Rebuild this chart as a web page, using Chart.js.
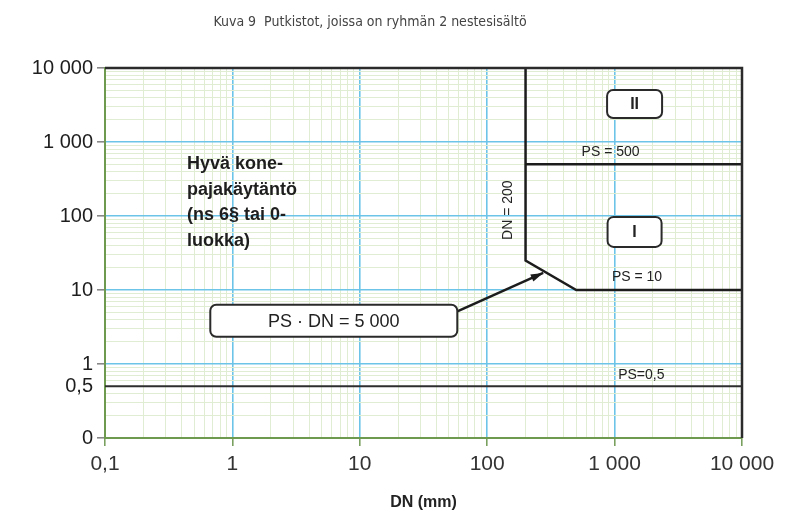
<!DOCTYPE html>
<html lang="fi">
<head>
<meta charset="UTF-8">
<title>Kuva 9</title>
<script src="https://cdn.jsdelivr.net/npm/chart.js"></script>
<style>
  html, body { margin: 0; padding: 0; background: #fff; }
  #wrap { width: 790px; height: 520px; position: relative; }
</style>
</head>
<body>
<div id="wrap"><canvas id="chart" width="790" height="520"></canvas></div>
<script>
// axis ticks (values and printed labels)
const xTickValues = [0.1, 1, 10, 100, 1000, 10000];
const xTickLabels = ['0,1', '1', '10', '100', '1 000', '10 000'];
const yTickValues = [0.1, 0.5, 1, 10, 100, 1000, 10000];
const yTickLabels = ['0', '0,5', '1', '10', '100', '1 000', '10 000'];

// boundary lines, DN (mm) vs PS
const linePS05 = [{x: 0.1, y: 0.5}, {x: 10000, y: 0.5}];
const lineBoundary = [{x: 10000, y: 10}, {x: 500, y: 10}, {x: 200, y: 25}, {x: 200, y: 10000}];
const linePS500 = [{x: 200, y: 500}, {x: 10000, y: 500}];
const arrowLine = [{x: 56, y: 5.0}, {x: 275, y: 17}];

// labels placed in data space
const boxLabels = [
  {text: 'II', x: 1435, y: 3265, w: 55, h: 28, bold: true},
  {text: 'I', x: 1435, y: 61, w: 54, h: 30, bold: true},
  {text: 'PS \u00b7 DN = 5 000', x: 6.25, y: 3.85, w: 247, h: 32, bold: false}
];
const lineLabels = [
  {text: 'PS = 500', x: 930, y: 500, dy: -12},
  {text: 'PS = 10', x: 1500, y: 10, dy: -13},
  {text: 'PS=0,5', x: 1620, y: 0.5, dy: -11}
];
const areaText = ['Hyvä kone-', 'pajakäytäntö', '(ns 6§ tai 0-', 'luokka)'];

function allLogTicks() {
  const t = [];
  for (let d = 0.1; d < 5000; d *= 10) {
    for (let m = 1; m <= 9; m++) t.push({value: +(m * d).toPrecision(3)});
  }
  t.push({value: 10000});
  return t;
}
function isDecade(v) {
  const l = Math.log10(v);
  return Math.abs(l - Math.round(l)) < 1e-6;
}

const annotations = {
  id: 'annotations',
  afterDatasetsDraw(chart) {
    const ctx = chart.ctx, xs = chart.scales.x, ys = chart.scales.y, a = chart.chartArea;
    ctx.save();
    // dark top and right frame
    ctx.strokeStyle = '#2b2b2b';
    ctx.lineWidth = 2.5;
    ctx.beginPath();
    ctx.moveTo(a.left, a.top);
    ctx.lineTo(a.right, a.top);
    ctx.lineTo(a.right, a.bottom);
    ctx.stroke();

    // arrow head
    const p0 = arrowLine[0], p1 = arrowLine[1];
    const x0 = xs.getPixelForValue(p0.x), y0 = ys.getPixelForValue(p0.y);
    const x1 = xs.getPixelForValue(p1.x), y1 = ys.getPixelForValue(p1.y);
    const ang = Math.atan2(y1 - y0, x1 - x0);
    ctx.fillStyle = '#1a1a1a';
    ctx.beginPath();
    ctx.moveTo(x1, y1);
    ctx.lineTo(x1 - 13 * Math.cos(ang - 0.3), y1 - 13 * Math.sin(ang - 0.3));
    ctx.lineTo(x1 - 13 * Math.cos(ang + 0.3), y1 - 13 * Math.sin(ang + 0.3));
    ctx.closePath();
    ctx.fill();

    // boxes
    boxLabels.forEach(b => {
      const cx = xs.getPixelForValue(b.x), cy = ys.getPixelForValue(b.y);
      ctx.beginPath();
      ctx.roundRect(cx - b.w / 2, cy - b.h / 2, b.w, b.h, 6);
      ctx.fillStyle = '#fff';
      ctx.fill();
      ctx.lineWidth = 2;
      ctx.strokeStyle = '#2a2a2a';
      ctx.stroke();
      ctx.fillStyle = '#222';
      ctx.font = (b.bold ? 'bold 16px' : '18px') + ' "Liberation Sans", Arial, sans-serif';
      ctx.textAlign = 'center';
      ctx.textBaseline = 'middle';
      ctx.fillText(b.text, cx, cy + 1);
    });

    // line labels
    ctx.font = '14px "Liberation Sans", Arial, sans-serif';
    ctx.fillStyle = '#222';
    ctx.textAlign = 'center';
    ctx.textBaseline = 'middle';
    lineLabels.forEach(l => {
      ctx.fillText(l.text, xs.getPixelForValue(l.x), ys.getPixelForValue(l.y) + l.dy);
    });

    // DN = 200 rotated
    ctx.save();
    ctx.translate(xs.getPixelForValue(200) - 17, ys.getPixelForValue(120));
    ctx.rotate(-Math.PI / 2);
    ctx.fillText('DN = 200', 0, 0);
    ctx.restore();

    // area description
    ctx.font = 'bold 18px "Liberation Sans", Arial, sans-serif';
    ctx.textAlign = 'left';
    ctx.textBaseline = 'alphabetic';
    ctx.fillStyle = '#1e1e1e';
    const tx = xs.getPixelForValue(0.44), ty = ys.getPixelForValue(430);
    areaText.forEach((s, i) => ctx.fillText(s, tx, ty + i * 25.5));

    // figure caption
    ctx.font = '14px "Liberation Sans Narrow", "DejaVu Sans Condensed", sans-serif';
    ctx.fillStyle = '#444';
    ctx.textAlign = 'center';
    ctx.textBaseline = 'middle';
    ctx.fillText('Kuva 9  Putkistot, joissa on ryhmän 2 nestesisältö', 370, 22);
    ctx.restore();
  }
};

const lineStyle = {borderColor: '#1c1c1c', borderWidth: 2.5, pointRadius: 0, showLine: true, fill: false, tension: 0};

new Chart(document.getElementById('chart').getContext('2d'), {
  type: 'scatter',
  data: {
    datasets: [
      Object.assign({label: 'PS = 0,5', data: linePS05}, lineStyle, {borderColor: '#2e2e2e', borderWidth: 2}),
      Object.assign({label: 'Rajat', data: lineBoundary}, lineStyle),
      Object.assign({label: 'PS = 500', data: linePS500}, lineStyle),
      Object.assign({label: 'Nuoli', data: arrowLine}, lineStyle, {borderWidth: 2.5})
    ]
  },
  options: {
    responsive: false,
    animation: false,
    layout: {padding: {top: 68, right: 48, left: 0, bottom: 0}},
    plugins: {legend: {display: false}, tooltip: {enabled: false}},
    scales: {
      x: {
        type: 'logarithmic',
        min: 0.1, max: 10000,
        afterBuildTicks: s => { s.ticks = allLogTicks(); },
        afterFit: s => { s.height = 82; },
        ticks: {
          autoSkip: false, maxRotation: 0, padding: 6,
          color: '#333',
          font: {family: '"Liberation Sans", Arial, sans-serif', size: 21},
          callback: v => { const i = xTickValues.findIndex(t => Math.abs(t - v) < 1e-9); return i >= 0 ? xTickLabels[i] : ''; }
        },
        grid: {
          color: c => isDecade(c.tick.value) ? '#6cc4e8' : '#e0edd2',
          lineWidth: c => isDecade(c.tick.value) ? 1.6 : 1,
          tickLength: 8,
          tickColor: c => isDecade(c.tick.value) ? '#7aa060' : 'transparent'
        },
        border: {color: '#6e9a50', width: 2},
        title: {display: true, text: 'DN (mm)', color: '#222', padding: {top: 2, bottom: 8},
          font: {family: '"Liberation Sans", Arial, sans-serif', size: 16, weight: 'bold'}}
      },
      y: {
        type: 'logarithmic',
        min: 0.1, max: 10000,
        afterBuildTicks: s => { s.ticks = allLogTicks(); },
        afterFit: s => { s.width = 105; },
        ticks: {
          autoSkip: false, padding: 4,
          color: '#1e1e1e',
          font: {family: '"Liberation Sans", Arial, sans-serif', size: 20},
          callback: v => { const i = yTickValues.findIndex(t => Math.abs(t - v) < 1e-9); return i >= 0 ? yTickLabels[i] : ''; }
        },
        grid: {
          color: c => isDecade(c.tick.value) ? '#6cc4e8' : '#e0edd2',
          lineWidth: c => isDecade(c.tick.value) ? 1.6 : 1,
          tickLength: 8,
          tickColor: c => yTickValues.some(t => Math.abs(t - c.tick.value) < 1e-9) && c.tick.value !== 0.5 ? '#888' : 'transparent'
        },
        border: {color: '#6e9a50', width: 2}
      }
    }
  },
  plugins: [annotations]
});
</script>
</body>
</html>
